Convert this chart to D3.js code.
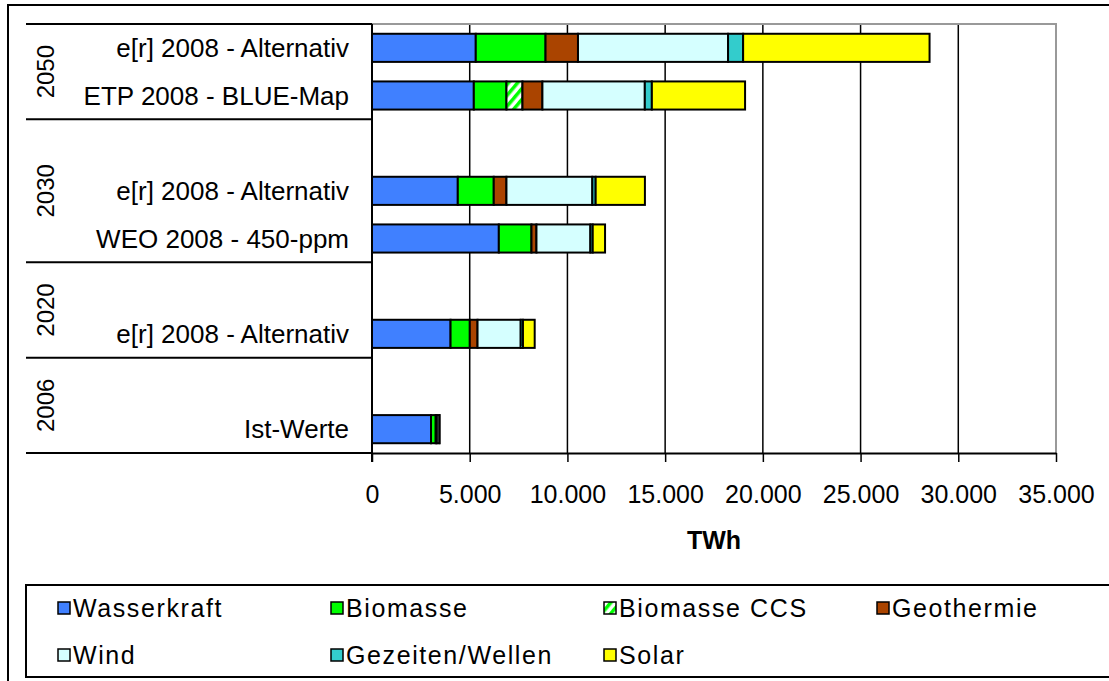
<!DOCTYPE html>
<html>
<head>
<meta charset="utf-8">
<script src="https://cdn.jsdelivr.net/npm/d3@7"></script>
<style>
  body { margin: 0; background: #fff; }
  svg { display: block; font-family: "Liberation Sans", Arial, sans-serif; }
</style>
</head>
<body>
<div class="chart"></div>
<script>
"use strict";

// Rows from top to bottom (empty label = spacer row inside a year group)
const rowLabels = ["e[r] 2008 - Alternativ", "ETP 2008 - BLUE-Map", "", "e[r] 2008 - Alternativ", "WEO 2008 - 450-ppm", "", "e[r] 2008 - Alternativ", "", "Ist-Werte"];
const rowGroups = ["2050", "2050", "2030", "2030", "2030", "2020", "2020", "2006", "2006"];
const yearGroups = ["2050", "2030", "2020", "2006"];

const sources = ["Wasserkraft", "Biomasse", "Biomasse CCS", "Geothermie", "Wind", "Gezeiten/Wellen", "Solar"];

// TWh per row
const wasserkraft = [5310, 5210, 0, 4390, 6490, 0, 4020, 0, 3020];
const biomasse    = [3570, 1670, 0, 1840, 1670, 0, 985, 0, 240];
const biomasseCCS = [0, 820, 0, 0, 0, 0, 0, 0, 0];
const geothermie  = [1660, 1020, 0, 650, 255, 0, 395, 0, 60];
const wind        = [7680, 5240, 0, 4395, 2760, 0, 2210, 0, 130];
const gezeiten    = [770, 360, 0, 170, 120, 0, 115, 0, 0];
const solar       = [9540, 4770, 0, 2520, 630, 0, 600, 0, 5];

const xTicks = [0, 5000, 10000, 15000, 20000, 25000, 30000, 35000];

const colors = ["#4080ff", "#00ff00", "url(#ccs)", "#aa4400", "#d5ffff", "#33cccc", "#ffff00"];

const table = rowLabels.map((label, i) => ({
  row: i,
  "Wasserkraft": wasserkraft[i],
  "Biomasse": biomasse[i],
  "Biomasse CCS": biomasseCCS[i],
  "Geothermie": geothermie[i],
  "Wind": wind[i],
  "Gezeiten/Wellen": gezeiten[i],
  "Solar": solar[i]
}));

const width = 1109;
const height = 681;

const svg = d3.select(".chart")
  .append("svg")
    .attr("width", width)
    .attr("height", height);

// hatch for Biomasse CCS
const pattern = svg.append("defs")
  .append("pattern")
    .attr("id", "ccs")
    .attr("patternUnits", "userSpaceOnUse")
    .attr("width", 7)
    .attr("height", 7)
    .attr("patternTransform", "rotate(40)");
pattern.append("rect").attr("width", 7).attr("height", 7).attr("fill", "#fff");
pattern.append("rect").attr("width", 3.5).attr("height", 7).attr("fill", "#00ff00");

// outer frame
svg.append("rect")
    .attr("x", 8).attr("y", 5)
    .attr("width", width + 20).attr("height", height + 20)
    .attr("fill", "#fff")
    .attr("stroke", "#000")
    .attr("stroke-width", 2);

const xScale = d3.scaleLinear()
  .domain([0, 35000])
  .range([372, 1056]);

const plotTop = 24, plotBottom = 453;

const yScale = d3.scaleBand()
  .domain(d3.range(rowLabels.length))
  .range([plotTop, plotBottom])
  .paddingInner(0.41)
  .paddingOuter(0.205);

const step = yScale.step();
const rowTop = i => plotTop + i * step;

// gridlines
svg.append("g")
  .selectAll("line")
  .data(xTicks.slice(1, -1))
  .join("line")
    .attr("x1", d => xScale(d))
    .attr("x2", d => xScale(d))
    .attr("y1", plotTop)
    .attr("y2", plotBottom)
    .attr("stroke", "#000")
    .attr("stroke-width", 1.5);

// plot area border (top / right)
svg.append("path")
    .attr("d", `M${xScale(0)},${plotTop}H${xScale(35000)}V${plotBottom}`)
    .attr("fill", "none")
    .attr("stroke", "#999")
    .attr("stroke-width", 2);

// stacked bars
const stacked = d3.stack().keys(sources)(table);

svg.append("g")
  .selectAll("g")
  .data(stacked)
  .join("g")
    .attr("fill", (d, i) => colors[i])
  .selectAll("rect")
  .data(d => d.filter(s => s[1] - s[0] > 0))
  .join("rect")
    .attr("x", d => xScale(d[0]))
    .attr("y", d => yScale(d.data.row))
    .attr("width", d => xScale(d[1]) - xScale(d[0]))
    .attr("height", yScale.bandwidth())
    .attr("stroke", "#000")
    .attr("stroke-width", 2);

// x axis
const deLocale = d3.formatLocale({ decimal: ",", thousands: ".", grouping: [3], currency: ["", " €"] });

const xAxis = d3.axisBottom(xScale)
  .tickValues(xTicks)
  .tickSize(9)
  .tickSizeOuter(0)
  .tickFormat(deLocale.format(",d"));

const axisG = svg.append("g")
    .attr("transform", `translate(0, ${plotBottom})`)
    .call(xAxis);

axisG.select(".domain").attr("stroke", "#000").attr("stroke-width", 2);
axisG.selectAll(".tick line").attr("stroke", "#000").attr("stroke-width", 1.5);
axisG.selectAll(".tick text")
    .attr("y", 32)
    .attr("fill", "#000")
    .attr("font-family", "Liberation Sans, Arial, sans-serif")
    .attr("font-size", 25);

// y axis line
svg.append("line")
    .attr("x1", xScale(0)).attr("x2", xScale(0))
    .attr("y1", plotTop).attr("y2", plotBottom + 9)
    .attr("stroke", "#000")
    .attr("stroke-width", 2);

svg.append("text")
    .attr("x", (xScale(0) + xScale(35000)) / 2)
    .attr("y", 540)
    .attr("text-anchor", "middle")
    .attr("dominant-baseline", "central")
    .attr("font-size", 25)
    .attr("font-weight", "bold")
    .text("TWh");

// row labels
svg.append("g")
  .selectAll("text")
  .data(rowLabels)
  .join("text")
    .attr("x", 349)
    .attr("y", (d, i) => yScale(i) + yScale.bandwidth() / 2)
    .attr("text-anchor", "end")
    .attr("dominant-baseline", "central")
    .attr("font-size", 26)
    .text(d => d);

// year group separators and labels
const groupSpan = yearGroups.map(g => {
  const idx = rowGroups.map((r, i) => r === g ? i : -1).filter(i => i >= 0);
  return { year: g, y0: rowTop(d3.min(idx)), y1: rowTop(d3.max(idx) + 1) };
});

svg.append("g")
  .selectAll("line")
  .data([plotTop, ...groupSpan.map(d => d.y1)])
  .join("line")
    .attr("x1", 26)
    .attr("x2", xScale(0))
    .attr("y1", d => d)
    .attr("y2", d => d)
    .attr("stroke", "#000")
    .attr("stroke-width", 2);

svg.append("g")
  .selectAll("text")
  .data(groupSpan)
  .join("text")
    .attr("transform", d => `translate(45, ${(d.y0 + d.y1) / 2}) rotate(-90)`)
    .attr("text-anchor", "middle")
    .attr("dominant-baseline", "central")
    .attr("font-size", 24)
    .text(d => d.year);

// legend
svg.append("rect")
    .attr("x", 26).attr("y", 585)
    .attr("width", width).attr("height", 92)
    .attr("fill", "#fff")
    .attr("stroke", "#000")
    .attr("stroke-width", 2);

const legendItem = svg.append("g")
  .selectAll("g")
  .data(sources)
  .join("g")
    .attr("transform", (d, i) => `translate(${58 + (i % 4) * 273}, ${608 + Math.floor(i / 4) * 47})`);

legendItem.append("rect")
    .attr("x", 0).attr("y", -6)
    .attr("width", 12).attr("height", 12)
    .attr("fill", (d, i) => colors[i])
    .attr("stroke", "#000")
    .attr("stroke-width", 1.5);

legendItem.append("text")
    .attr("x", 15)
    .attr("dominant-baseline", "central")
    .attr("font-size", 25)
    .attr("letter-spacing", 1.6)
    .text(d => d);
</script>
</body>
</html>
